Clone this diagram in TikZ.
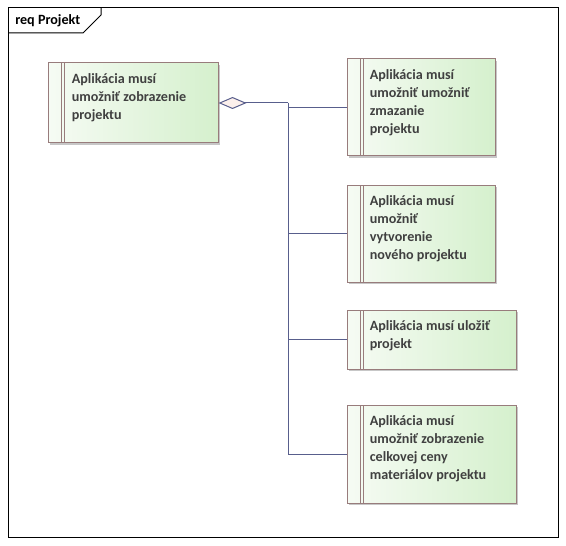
\documentclass[tikz,border=0pt]{standalone}
\usepackage{fontspec}
\setmainfont{Carlito}
\usetikzlibrary{arrows.meta,fit,shadows}
\definecolor{reqborder}{RGB}{152,124,124}
\definecolor{reqleft}{RGB}{246,251,244}
\definecolor{reqright}{RGB}{213,240,205}
\definecolor{connline}{RGB}{88,94,140}
\definecolor{diafill}{RGB}{252,240,236}
\definecolor{reqtxt}{RGB}{64,64,64}

\begin{document}
\begin{tikzpicture}[x=0.75pt,y=-0.75pt,
    req/.style={draw=reqborder,line width=0.75pt,inner sep=0pt,
      left color=reqleft,right color=reqright,
      drop shadow={shadow xshift=1.5pt,shadow yshift=-1.5pt,fill=black!22,opacity=1},
      path picture={
        \draw[reqborder,line width=0.75pt] ([xshift=10pt]path picture bounding box.north west) -- ([xshift=10pt]path picture bounding box.south west);
        \draw[reqborder,line width=0.75pt] ([xshift=12.6pt]path picture bounding box.north west) -- ([xshift=12.6pt]path picture bounding box.south west);
      }},
    reqtext/.style={anchor=north west,inner sep=0pt,align=left,text=reqtxt,
      font=\bfseries\fontsize{10.6}{13.5}\selectfont},
    conn/.style={draw=connline,line width=0.75pt}]
  \useasboundingbox (0,0) rectangle (566,545);
  % frame
  \draw[line width=0.75pt] (8,8) rectangle (558,537);
  \draw[line width=0.75pt] (8,33) -- (83,33) -- (101,15) -- (101,8);
  \node[anchor=base west,inner sep=0pt,font=\bfseries\fontsize{10.6}{12}\selectfont] (title) at (15,25) {req Projekt};
  % requirements
  \node[req,fit={(48,63) (218,143)}] (zobrazenie) {};
  \node[req,fit={(347,59) (495,156)}] (zmazanie) {};
  \node[req,fit={(347,185) (495,282)}] (vytvorenie) {};
  \node[req,fit={(347,310) (516,369)}] (ulozit) {};
  \node[req,fit={(347,405) (516,503)}] (cena) {};
  \node[reqtext] (zobrazenieText) at ([shift={(24,11)}]zobrazenie.north west) {Aplikácia musí\\umožniť zobrazenie\\projektu};
  \node[reqtext] (zmazanieText) at ([shift={(23,11)}]zmazanie.north west) {Aplikácia musí\\umožniť umožniť\\zmazanie\\projektu};
  \node[reqtext] (vytvorenieText) at ([shift={(23,11)}]vytvorenie.north west) {Aplikácia musí\\umožniť\\vytvorenie\\nového projektu};
  \node[reqtext] (ulozitText) at ([shift={(23,11)}]ulozit.north west) {Aplikácia musí uložiť\\projekt};
  \node[reqtext] (cenaText) at ([shift={(23,11)}]cena.north west) {Aplikácia musí\\umožniť zobrazenie\\celkovej ceny\\materiálov projektu};
  % aggregation
  \coordinate (split) at (288,103);
  \draw[conn,{Diamond[length=21pt,width=9pt,fill=diafill]}-] (zobrazenie.east) -- (split);
  \draw[conn] (split) |- (zmazanie.west);
  \draw[conn] (split) |- (vytvorenie.west);
  \draw[conn] (split) |- (ulozit.west);
  \draw[conn] (split) |- (cena.west);
\end{tikzpicture}
\end{document}
